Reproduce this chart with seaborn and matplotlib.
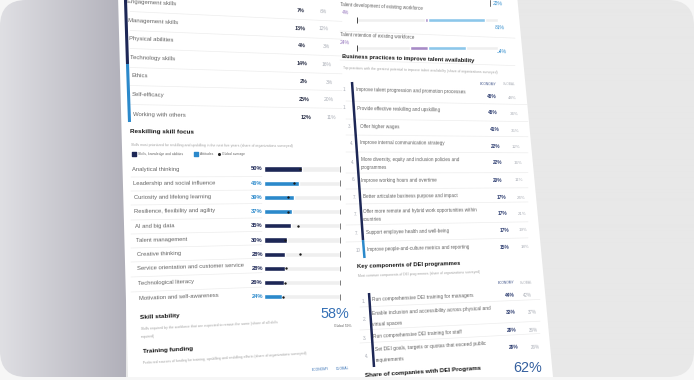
import numpy as np
import pandas as pd
import matplotlib
matplotlib.use("Agg")
import matplotlib.pyplot as plt
import seaborn as sns
from matplotlib import font_manager
from matplotlib.patches import FancyBboxPatch, Polygon

W, H = 694, 380

# ----- data -----
top_skills = ["Engagement skills", "Management skills", "Physical abilities",
              "Technology skills", "Ethics", "Self-efficacy", "Working with others"]
top_economy = [7, 13, 4, 14, 2, 25, 12]
top_global = [6, 12, 3, 16, 3, 20, 11]

reskill_skills = ["Analytical thinking", "Leadership and social influence",
                  "Curiosity and lifelong learning", "Resilience, flexibility and agility",
                  "AI and big data", "Talent management", "Creative thinking",
                  "Service orientation and customer service", "Technological literacy",
                  "Motivation and self-awareness"]
reskill_share = [50, 46, 39, 37, 35, 30, 28, 28, 26, 24]
reskill_type = ["Skills", "Attitudes", "Attitudes", "Attitudes", "Skills",
                "Skills", "Skills", "Skills", "Skills", "Attitudes"]
reskill_global = [47, 40, 31, 31, 45, 28, 48, 29, 27, 25]

talent_rows = ["Talent development of existing workforce",
               "Talent retention of existing workforce"]
talent_worse = [4, 24]
talent_better = [81, 54]

practices = ["Improve talent progression and promotion processes",
             "Provide effective reskilling and upskilling",
             "Offer higher wages",
             "Improve internal communication strategy",
             "More diversity, equity and inclusion policies and\nprogrammes",
             "Improve working hours and overtime",
             "Better articulate business purpose and impact",
             "Offer more remote and hybrid work opportunities within\ncountries",
             "Support employee health and well-being",
             "Improve people-and-culture metrics and reporting"]
practice_rank = ["1.", "1.", "3.", "4.", "4.", "6.", "7.", "7.", "7.", "10"]
practice_economy = [46, 46, 41, 22, 22, 20, 17, 17, 17, 15]
practice_global = [48, 34, 35, 12, 16, 11, 24, 21, 19, 18]

dei_components = ["Run comprehensive DEI training for managers",
                  "Enable inclusion and accessibility across physical and\nvirtual spaces",
                  "Run comprehensive DEI training for staff",
                  "Set DEI goals, targets or quotas that exceed public\nrequirements"]
dei_rank = ["1.", "2.", "3.", "4."]
dei_economy = [44, 33, 29, 29]
dei_global = [42, 37, 36, 26]

skill_stability, skill_stability_global = 58, 59
dei_share = 62
prev_row_value = 22

# ----- layout (pixel positions, y from top) -----
top_label_xy = [(127, 2), (128, 21), (129, 39), (130, 58), (132, 76), (132, 95), (133, 115)]
top_econ_xy = [(305, 11), (306, 29), (306, 46), (307, 64), (308, 82), (310, 100), (311, 118)]
top_glob_xy = [(327, 12), (329, 29), (330, 47), (332, 65), (333, 83), (334, 100), (336, 118)]
reskill_label_xy = [(132, 170), (133, 184), (134, 198), (134, 212), (135, 227),
                    (136, 241), (137, 255), (137, 269), (138, 284), (139, 299)]
prac_rank_xy = [(343, 90), (343, 108), (348, 127), (350, 144), (351, 163),
                (352, 180), (353, 198), (354, 215), (355, 234), (356, 251)]
prac_label_xy = [(356, 90), (357, 109), (360, 127), (360, 143), (361, 160),
                 (361, 181), (363, 197), (363, 212), (366, 233), (367, 250)]
prac_econ_xy = [(492, 97), (493, 113), (495, 130), (496, 147), (498, 163),
                (498, 180), (501, 197), (502, 213), (504, 230), (505, 247)]
prac_glob_xy = [(512, 98), (514, 114), (515, 131), (516, 147), (518, 163),
                (519, 180), (521, 198), (522, 214), (523, 230), (525, 247)]
dei_rank_xy = [(362, 302), (363, 320), (363, 339), (365, 357)]
dei_label_xy = [(372, 300), (372, 314), (373, 337), (375, 350)]
dei_econ_xy = [(510, 295), (511, 312), (512, 330), (514, 347)]
dei_glob_xy = [(527, 295), (532, 312), (533, 330), (535, 347)]

NAVY = "#1d2756"
BLUE = "#2b89cb"
DARK = "#262c44"
GREY = "#626262"
SUB = "#a3a3a3"
LIGHT = "#a9adb6"
TRACK = "#efefef"
PURPLE = "#a78bc6"
PURPLE_TXT = "#9474bd"
SKY = "#8cc7ea"
BIGBLUE = "#3570b5"
SEP = "#ededed"

sns.set_theme(style="white")
_names = {f.name for f in font_manager.fontManager.ttflist}
NARROW = "Liberation Sans Narrow" in _names
FONT = "Liberation Sans Narrow" if NARROW else "Liberation Sans"
FS = 1.0 if NARROW else 0.86
plt.rcParams["font.family"] = [FONT, "DejaVu Sans"]


def tilt(y):
    # rows lean down at the top of the page and up near the bottom
    return -np.degrees(np.arctan(0.05 - 0.0003 * y))


def px_rect(x0, y0, x1, y1):
    return [x0 / W, 1 - y1 / H, (x1 - x0) / W, (y1 - y0) / H]


fig = plt.figure(figsize=(W / 100, H / 100), dpi=100, facecolor="#f6f6f6")
bg = fig.add_axes([0, 0, 1, 1])
bg.set_xlim(0, W)
bg.set_ylim(H, 0)
bg.axis("off")


def put(x, y, s, fs, color=GREY, weight="normal", ha="left", gap=0, angle=None):
    for k, line in enumerate(s.split("\n")):
        yy = y + k * gap
        a = tilt(yy) if angle is None else angle
        bg.text(x, yy, line, fontsize=fs * FS, color=color, fontweight=weight,
                ha=ha, va="center", rotation=a, rotation_mode="anchor", zorder=5)


def sep(x0, x1, y):
    bg.plot([x0, x1], [y, y + (0.05 - 0.0003 * y) * (x1 - x0)],
            color=SEP, lw=0.5, zorder=2)


# ----- backdrop: rounded card with a grey gradient and a tilted white page -----
card = FancyBboxPatch((0, 0), W, 377, boxstyle="round,pad=0,rounding_size=26",
                      fc="none", ec="none")
bg.add_patch(card)
xs = np.arange(W)
t = np.clip(xs / 125, 0, 1)[:, None]
c_left = np.array([0xdf, 0xdf, 0xe3]) / 255
c_mid = np.array([0xb1, 0xb0, 0xba]) / 255
cols = c_left + (c_mid - c_left) * t
cols[xs > 125] = np.array([0xe8, 0xe8, 0xe8]) / 255
grad = np.repeat(cols[None, :, :], 2, axis=0)
im = bg.imshow(grad, extent=(0, W, 377, 0), aspect="auto", zorder=0,
               interpolation="bilinear")
im.set_clip_path(card)
bg.add_patch(Polygon([(118, -5), (517, -5), (553, 377), (128, 377)],
                     closed=True, fc="white", ec="none", zorder=1))
bg.set_xlim(0, W)
bg.set_ylim(H, 0)

# ----- top-left table -----
bg.plot([125.5, 127.5], [0, 64], color=NAVY, lw=2.2, solid_capstyle="butt", zorder=3)
bg.plot([127.5, 129.5], [64, 122], color=BLUE, lw=2.2, solid_capstyle="butt", zorder=3)
for i, name in enumerate(top_skills):
    put(*top_label_xy[i], name, 5, GREY)
    put(*top_econ_xy[i], f"{top_economy[i]}%", 4.5, DARK, "bold", ha="right")
    put(*top_glob_xy[i], f"{top_global[i]}%", 4.2, LIGHT, ha="right")
    if i < len(top_skills) - 1:
        sep(130, 342, top_label_xy[i][1] + 9.5)

# ----- reskilling skill focus -----
put(130, 132, "Reskilling skill focus", 5.3, "#161616", "bold")
put(131, 145, "Skills most prioritized for reskilling and upskilling in the next five years "
              "(share of organizations surveyed)", 2.9, SUB)
bg.scatter([134.5], [154], marker="s", s=9, color=NAVY, zorder=5)
put(138, 154, "Skills, knowledge and abilities", 2.8, GREY)
bg.scatter([196.5], [154], marker="s", s=9, color=BLUE, zorder=5)
put(200, 154, "Attitudes", 2.8, GREY)
bg.scatter([219], [154], marker="o", s=1.5, color="#222222", zorder=5)
put(222, 154, "Global average", 2.8, GREY)

df = pd.DataFrame({"skill": reskill_skills, "share": reskill_share,
                   "type": reskill_type, "global": reskill_global})
df["track"] = 100
for i, name in enumerate(reskill_skills):
    put(*reskill_label_xy[i], name, 4.9, GREY)
    if i > 0:
        sep(131, 262, reskill_label_xy[i][1] - 7)

ax = fig.add_axes(px_rect(264, 161.9, 346, 303.9))
sns.barplot(data=df, x="track", y="skill", color=TRACK, saturation=1,
            width=0.38, errorbar=None, ax=ax)
sns.barplot(data=df, x="share", y="skill", hue="type",
            palette={"Skills": NAVY, "Attitudes": BLUE}, saturation=1,
            dodge=False, width=0.38, errorbar=None, legend=False, ax=ax)
sns.scatterplot(data=df, x="global", y="skill", color="#1a1a1a", s=3,
                linewidth=0, ax=ax, zorder=4)
pos = np.arange(len(df), dtype=float)
ax.vlines(np.full(len(df), 100.0), pos - 0.2, pos + 0.2, color="#666666", lw=0.6)
for i, row in df.iterrows():
    ax.text(-1.5, i, f"{row['share']}%", ha="right", va="center",
            fontsize=4.8 * FS, fontweight="bold",
            color=NAVY if row["type"] == "Skills" else BLUE)
ax.set_xlim(0, 82 / 0.76)
ax.set_ylim(len(df) - 0.5, -0.5)
ax.patch.set_alpha(0)
ax.axis("off")

# ----- skill stability / training funding -----
put(140, 318, "Skill stability", 5.3, "#161616", "bold")
put(141, 329, "Skills required by the workforce that are expected to remain the same "
              "(share of all skills\nrequired)", 2.9, SUB, gap=8)
put(349, 314, f"{skill_stability}%", 12, BIGBLUE, ha="right", angle=0)
put(352, 326, f"Global {skill_stability_global}%", 2.8, GREY, ha="right", angle=0)
put(143, 352, "Training funding", 5.3, "#161616", "bold")
put(143, 363, "Preferred sources of funding for training, upskilling and reskilling "
              "efforts (share of organizations surveyed)", 2.9, SUB)
put(320, 369, "ECONOMY", 2.8, BIGBLUE, ha="center")
put(343, 369, "GLOBAL", 2.8, BIGBLUE, ha="center")

# ----- talent outlook bars (top right) -----
put(498, 4, f"{prev_row_value}%", 4.2, BLUE, ha="center")
bg.plot([490, 490], [0, 6], color="#555555", lw=0.6, zorder=3)
put(340, 5, talent_rows[0], 3.8, GREY)
put(342, 13, f"{talent_worse[0]}%", 4.2, PURPLE_TXT)
put(340, 35, talent_rows[1], 3.8, GREY)
put(340, 43, f"{talent_worse[1]}%", 4.2, PURPLE_TXT)
put(500, 28, f"{talent_better[0]}%", 4.2, BLUE, ha="center")
put(502, 52, f"{talent_better[1]}%", 4.2, BLUE, ha="center")
sep(340, 515, 31)
sep(340, 515, 60)

dt = pd.DataFrame({"row": talent_rows, "worse": [-v for v in talent_worse],
                   "better": talent_better})
dt["lo"] = -100
dt["hi"] = 100
tax = fig.add_axes(px_rect(350, 6, 505, 62))
for col_name, colr in [("lo", TRACK), ("hi", TRACK), ("worse", PURPLE), ("better", SKY)]:
    sns.barplot(data=dt, x=col_name, y="row", color=colr, saturation=1,
                width=0.13, errorbar=None, ax=tax)
tpos = np.arange(len(dt), dtype=float)
tax.vlines(np.full(len(dt), -100.0), tpos - 0.12, tpos + 0.12, color="#444444", lw=0.7)
tax.set_xlim(-109.2, 109.2)
tax.set_ylim(len(dt) - 0.5, -0.5)
tax.patch.set_alpha(0)
tax.axis("off")

# ----- business practices -----
put(342, 57, "Business practices to improve talent availability", 4.8, "#161616", "bold")
put(343, 68, "Top practices with the greatest potential to improve talent availability "
             "(share of organizations surveyed)", 2.8, SUB)
put(488, 84, "ECONOMY", 2.7, "#3a4f86", ha="center")
put(509, 84, "GLOBAL", 2.7, LIGHT, ha="center")
bg.plot([352, 363], [82, 240], color=NAVY, lw=1.8, solid_capstyle="butt", zorder=3)
bg.plot([363, 364.5], [240, 258], color=BLUE, lw=1.8, solid_capstyle="butt", zorder=3)
for i, name in enumerate(practices):
    put(*prac_rank_xy[i], practice_rank[i], 3.8, LIGHT)
    put(*prac_label_xy[i], name, 3.9, GREY, gap=7.5)
    put(*prac_econ_xy[i], f"{practice_economy[i]}%", 4.0, "#2a3a6e", "bold", ha="center")
    put(*prac_glob_xy[i], f"{practice_global[i]}%", 3.7, LIGHT, ha="center")
    if i > 0:
        sep(346, 528, prac_label_xy[i][1] - 8)

# ----- DEI programmes -----
put(357, 267, "Key components of DEI programmes", 4.9, "#161616", "bold")
put(358, 276, "Most common components of DEI programmes (share of organizations surveyed)",
    2.8, SUB)
put(506, 283, "ECONOMY", 2.7, "#3a4f86", ha="center")
put(526, 283, "GLOBAL", 2.7, LIGHT, ha="center")
bg.plot([369, 374], [293, 367], color=NAVY, lw=1.8, solid_capstyle="butt", zorder=3)
for i, name in enumerate(dei_components):
    put(*dei_rank_xy[i], dei_rank[i], 4, LIGHT)
    put(*dei_label_xy[i], name, 4.1, GREY, gap=11)
    put(*dei_econ_xy[i], f"{dei_economy[i]}%", 4.1, "#2a3a6e", "bold", ha="center")
    put(*dei_glob_xy[i], f"{dei_global[i]}%", 3.8, LIGHT, ha="center")
    if i > 0:
        sep(360, 540, dei_label_xy[i][1] - 7)
put(365, 376, "Share of companies with DEI Programs", 5.2, "#161616", "bold")
put(542, 368, f"{dei_share}%", 12, "#35609f", ha="right", angle=0)

fig.savefig("out.png", dpi=100, facecolor=fig.get_facecolor())
